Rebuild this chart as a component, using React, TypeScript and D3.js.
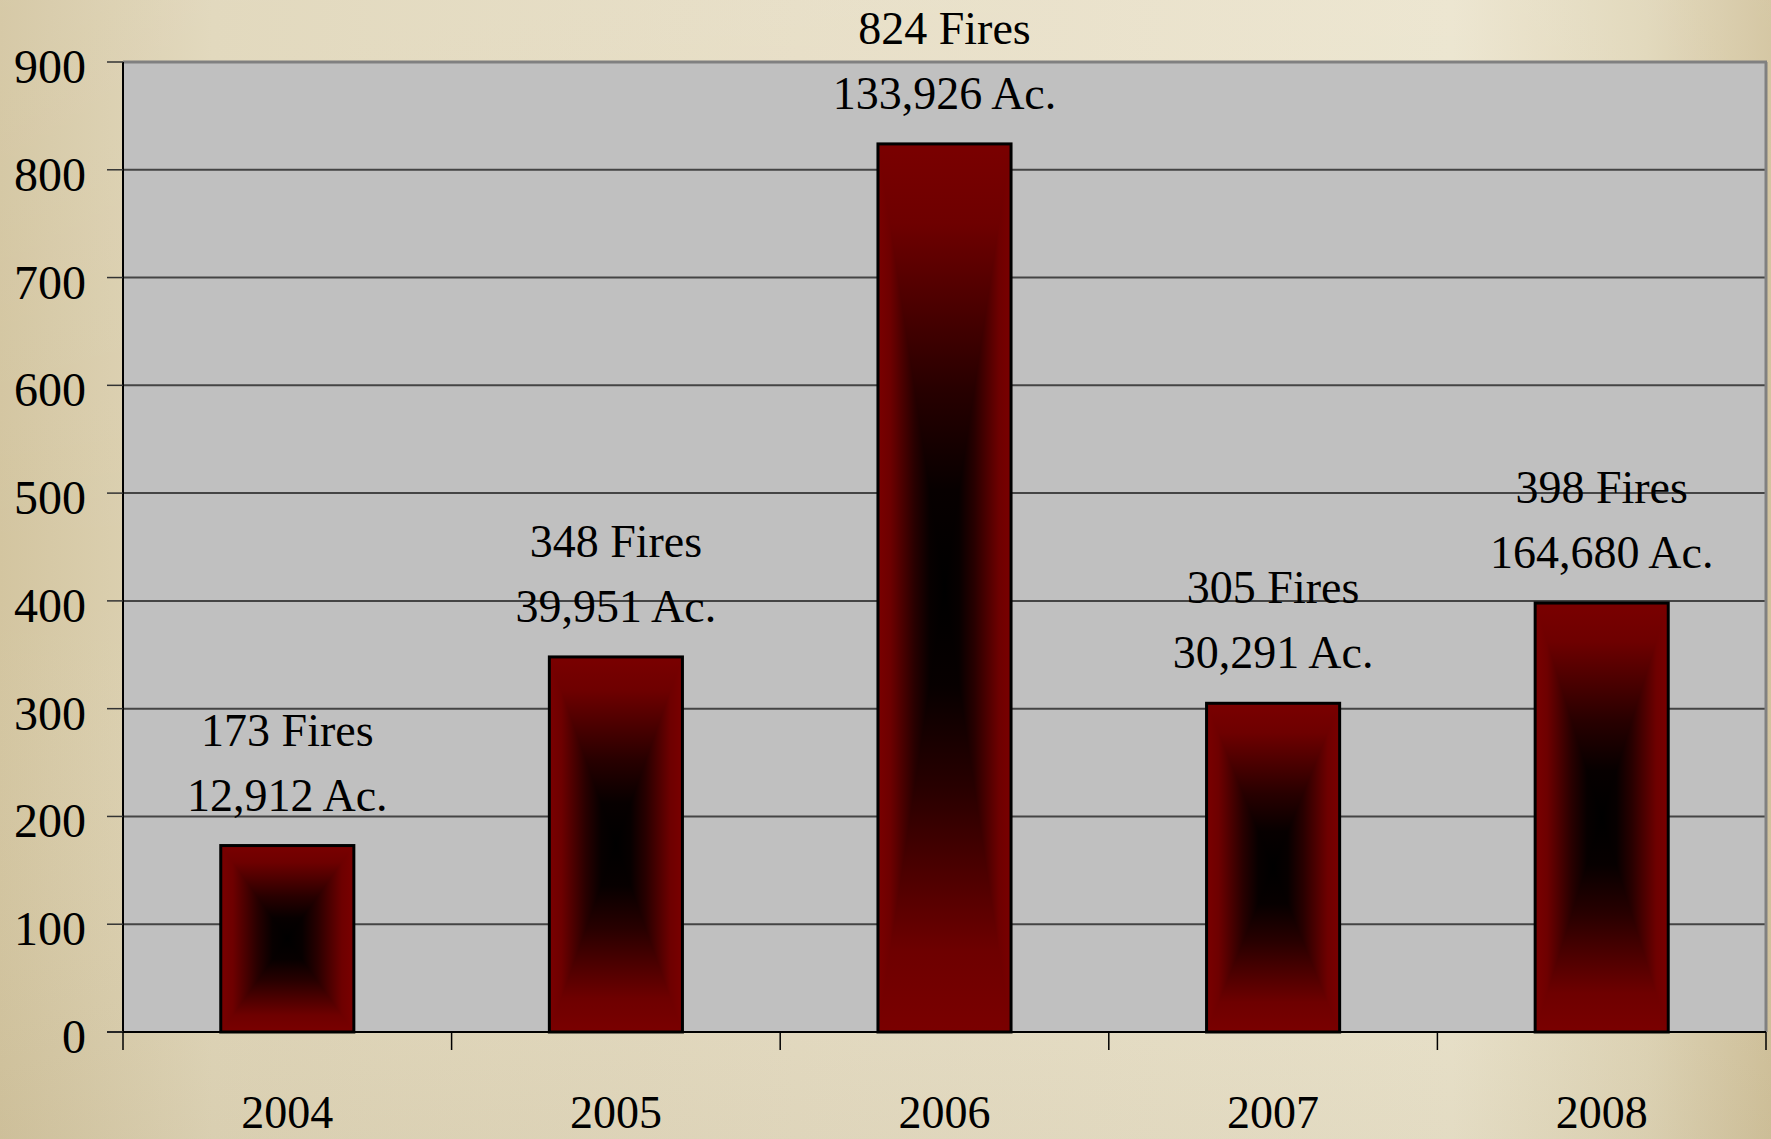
import React from "react";
import * as d3 from "d3";

const years = ["2004", "2005", "2006", "2007", "2008"];
const fires = [173, 348, 824, 305, 398];
const acres = ["12,912", "39,951", "133,926", "30,291", "164,680"];
const yTicks = [0, 100, 200, 300, 400, 500, 600, 700, 800, 900];

const W = 1771;
const H = 1139;
const M = { left: 123, right: 1766, top: 62, bottom: 1032 };

// distance-from-centre (t) -> colour for the rectangular "from centre" gradient
const shade: [number, string][] = [
  [0, "#000000"],
  [0.22, "#070000"],
  [0.45, "#280000"],
  [0.65, "#4e0000"],
  [0.82, "#6e0000"],
  [1, "#7a0000"],
];

function stops() {
  const left = shade
    .slice()
    .reverse()
    .map(([t, c]) => [0.5 - t / 2, c] as [number, string]);
  const right = shade.slice(1).map(([t, c]) => [0.5 + t / 2, c] as [number, string]);
  return [...left, ...right];
}

export default function App() {
  const x = d3
    .scaleBand<string>()
    .domain(years)
    .range([M.left, M.right])
    .paddingInner(0.595)
    .paddingOuter(0.595 / 2);
  const y = d3.scaleLinear().domain([0, 900]).range([M.bottom, M.top]);
  const step = x.step();
  const boundaries = d3.range(years.length + 1).map((i) => M.left + i * step);
  const st = stops();
  const font = "'Liberation Serif', 'Times New Roman', serif";

  return (
    <svg
      width={W}
      height={H}
      style={{ position: "absolute", left: 0, top: 0, display: "block" }}
      fontFamily={font}
    >
      <defs>
        <linearGradient id="bg" x1="0" x2="1" y1="0" y2="0">
          <stop offset="0" stopColor="#d3c5a0" />
          <stop offset="0.12" stopColor="#e0d6b9" />
          <stop offset="0.45" stopColor="#e6ddc4" />
          <stop offset="0.82" stopColor="#ebe4cd" />
          <stop offset="0.93" stopColor="#e0d6b8" />
          <stop offset="1" stopColor="#d2c39d" />
        </linearGradient>
        <linearGradient id="bgV" x1="0" x2="0" y1="0" y2="1">
          <stop offset="0" stopColor="#ffffff" stopOpacity="0.08" />
          <stop offset="0.5" stopColor="#ffffff" stopOpacity="0" />
          <stop offset="1" stopColor="#8a7a50" stopOpacity="0.08" />
        </linearGradient>
        <linearGradient id="gH" x1="0" x2="1" y1="0" y2="0">
          {st.map(([o, c], i) => (
            <stop key={i} offset={o} stopColor={c} />
          ))}
        </linearGradient>
        <linearGradient id="gV" x1="0" x2="0" y1="0" y2="1">
          {st.map(([o, c], i) => (
            <stop key={i} offset={o} stopColor={c} />
          ))}
        </linearGradient>
      </defs>

      <rect x={0} y={0} width={W} height={H} fill="url(#bg)" />
      <rect x={0} y={0} width={W} height={H} fill="url(#bgV)" />

      {/* plot area */}
      <rect
        x={M.left}
        y={M.top}
        width={M.right - M.left}
        height={M.bottom - M.top}
        fill="#c0c0c0"
      />
      {/* gridlines */}
      {yTicks
        .filter((t) => t > 0 && t < 900)
        .map((t) => (
          <line
            key={t}
            x1={M.left}
            x2={M.right}
            y1={y(t)}
            y2={y(t)}
            stroke="#444"
            strokeWidth={2}
          />
        ))}
      {/* top & right border */}
      <line x1={M.left} x2={M.right + 1} y1={M.top} y2={M.top} stroke="#808080" strokeWidth={3} />
      <line x1={M.right} x2={M.right} y1={M.top} y2={M.bottom} stroke="#808080" strokeWidth={3} />

      {/* bars */}
      {years.map((yr, i) => {
        const bx = x(yr)!;
        const bw = x.bandwidth();
        const top = y(fires[i]);
        const bot = y(0);
        const cx = bx + bw / 2;
        const cy = (top + bot) / 2;
        const hour = `M${bx},${top}L${bx + bw},${top}L${cx},${cy}L${bx + bw},${bot}L${bx},${bot}L${cx},${cy}Z`;
        return (
          <g key={yr}>
            <rect x={bx} y={top} width={bw} height={bot - top} fill="url(#gH)" />
            <path d={hour} fill="url(#gV)" />
            <rect
              x={bx}
              y={top}
              width={bw}
              height={bot - top}
              fill="none"
              stroke="#000"
              strokeWidth={3}
            />
            <text x={cx} y={top - 100} textAnchor="middle" fontSize={46} fill="#000">
              {`${fires[i]} Fires`}
            </text>
            <text x={cx} y={top - 35} textAnchor="middle" fontSize={46} fill="#000">
              {`${acres[i]} Ac.`}
            </text>
          </g>
        );
      })}

      {/* axes */}
      <line x1={M.left} x2={M.left} y1={M.top} y2={M.bottom} stroke="#000" strokeWidth={2} />
      <line x1={M.left - 16} x2={M.right} y1={M.bottom} y2={M.bottom} stroke="#000" strokeWidth={2} />
      {yTicks.map((t) => (
        <g key={t}>
          <line x1={M.left - 16} x2={M.left} y1={y(t)} y2={y(t)} stroke="#333" strokeWidth={1.5} />
          <text x={86} y={y(t) + 21} textAnchor="end" fontSize={48} fill="#000">
            {t}
          </text>
        </g>
      ))}
      {boundaries.map((b, i) => (
        <line key={i} x1={b} x2={b} y1={M.bottom} y2={M.bottom + 18} stroke="#000" strokeWidth={1.5} />
      ))}
      {years.map((yr) => (
        <text
          key={yr}
          x={x(yr)! + x.bandwidth() / 2}
          y={1128}
          textAnchor="middle"
          fontSize={46}
          fill="#000"
        >
          {yr}
        </text>
      ))}
    </svg>
  );
}
